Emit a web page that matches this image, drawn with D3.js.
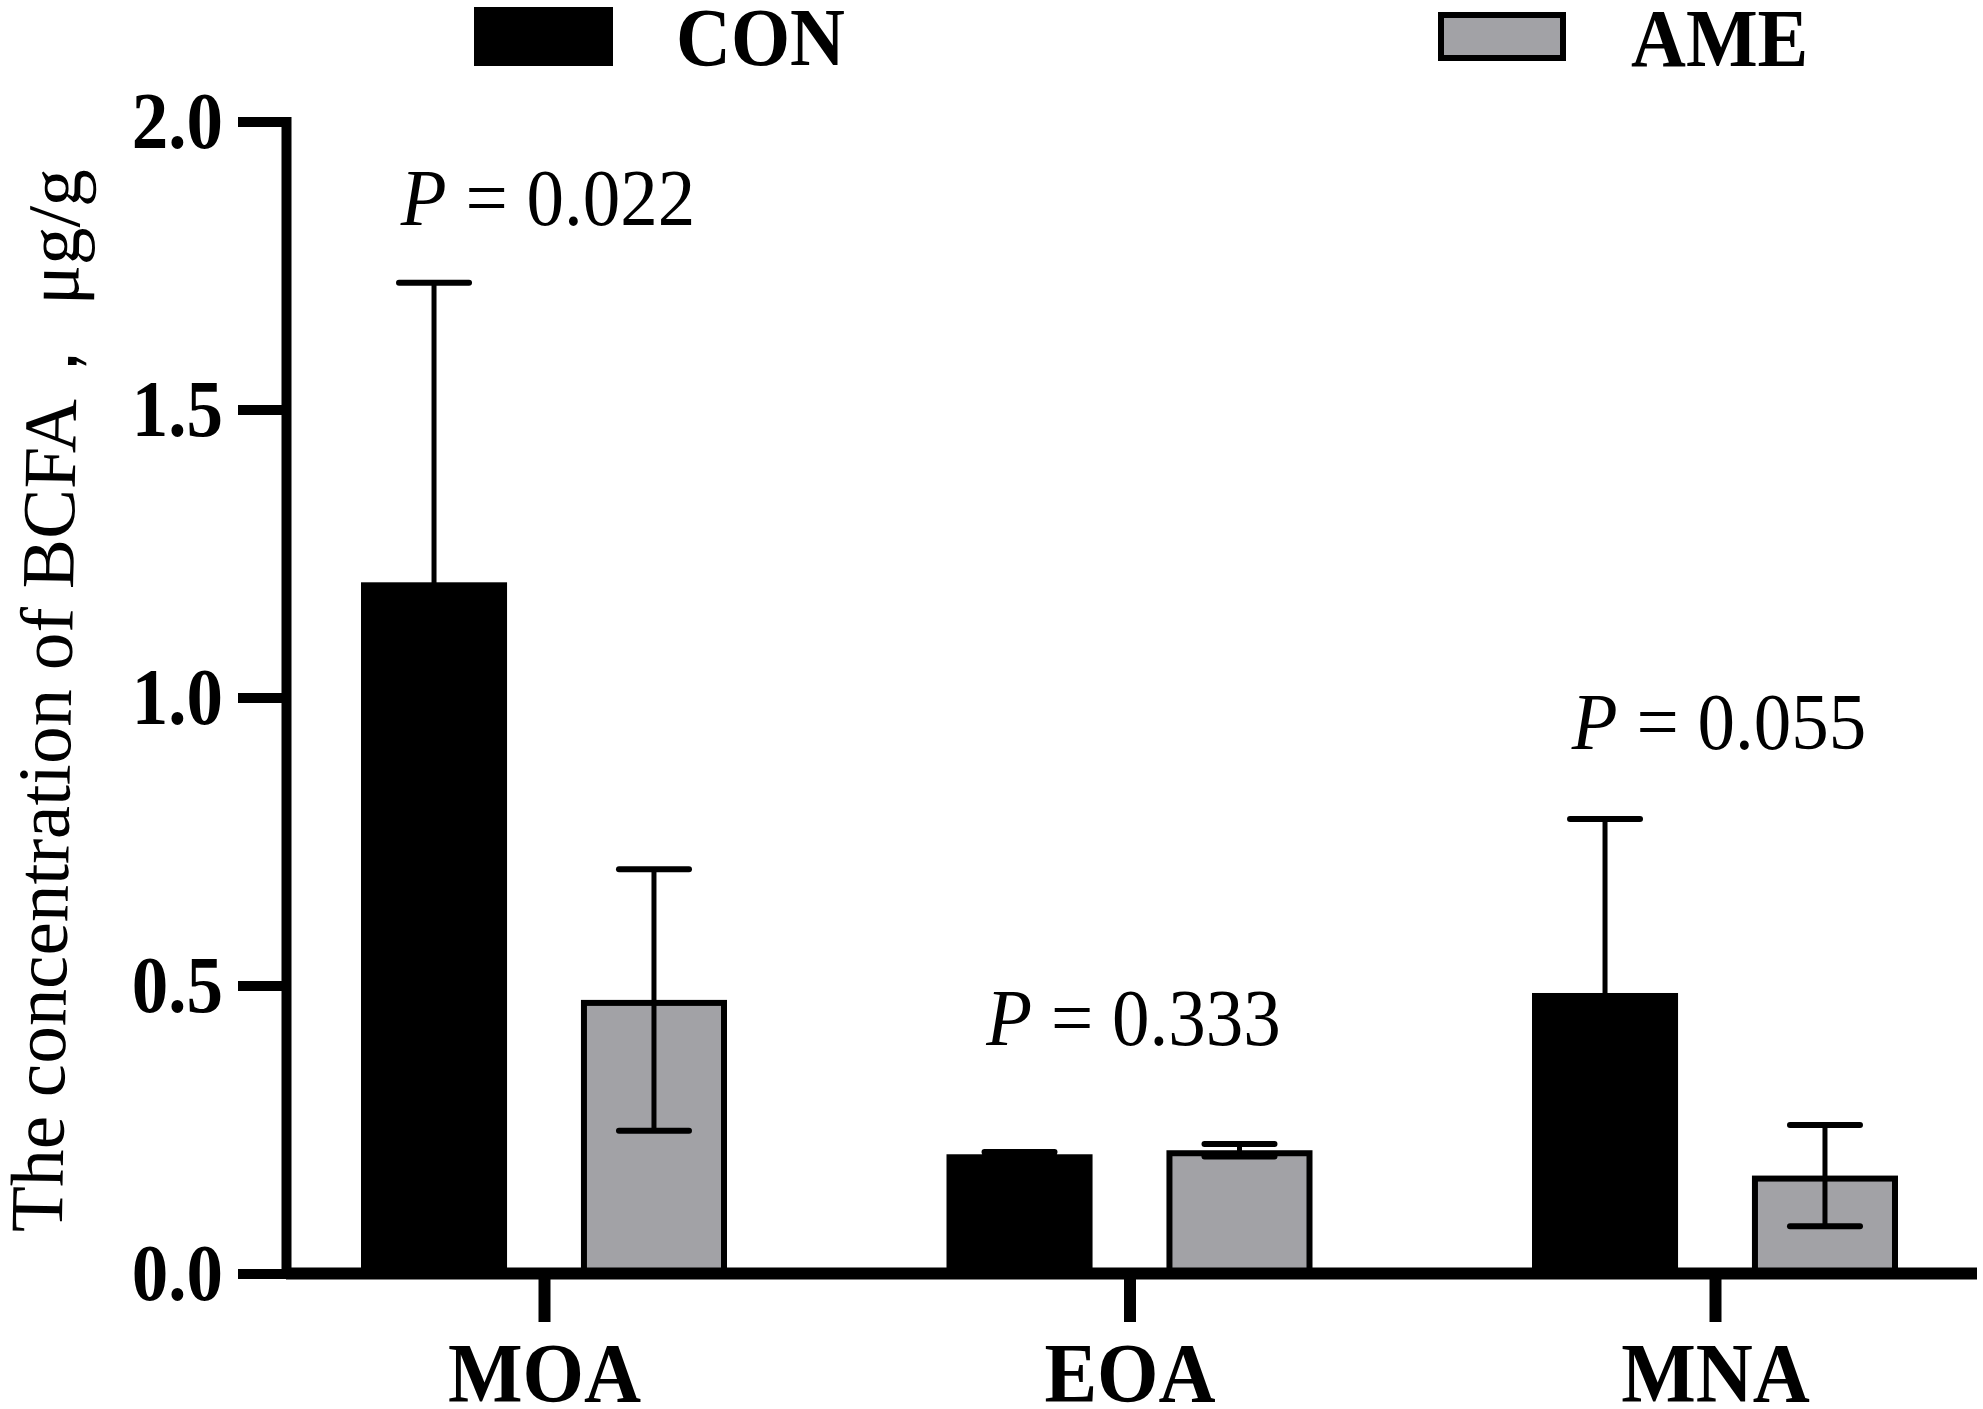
<!DOCTYPE html>
<html>
<head>
<meta charset="utf-8">
<script src="https://cdn.jsdelivr.net/npm/d3@7"></script>
<style>
  body { margin: 0; background: #fff; }
  svg { display: block; }
</style>
</head>
<body>
<svg id="chart" width="1983" height="1409"></svg>
<script>
// values
var categories = ['MOA', 'EOA', 'MNA'];
var groups = ['CON', 'AME'];
var conMean = [1.20, 0.207, 0.487];
var conErr = [0.52, 0.004, 0.302];
var ameMean = [0.475, 0.214, 0.170];
var ameErr = [0.227, 0.011, 0.088];
var pValues = ['0.022', '0.333', '0.055'];
var pLabelAt = [1.82, 0.397, 0.91];
var yTicks = [0, 0.5, 1.0, 1.5, 2.0];

var font = 'Liberation Serif, Times New Roman, serif';
var grey = '#a2a2a6';

var svg = d3.select('#chart');
svg.append('rect').attr('width', 1983).attr('height', 1409).attr('fill', '#fff');

var y = d3.scaleLinear().domain([0, 2]).range([1273.5, 121.5]);
var x = d3.scalePoint().domain(categories).range([544, 1715]);
var xSub = d3.scaleBand().domain(groups).range([-183, 183]).paddingInner(0.336);

var rows = categories.map(function (c, i) {
    return {
        cat: c,
        vals: [
            { g: 'CON', mean: conMean[i], err: conErr[i] },
            { g: 'AME', mean: ameMean[i], err: ameErr[i] }
        ]
    };
});

// bars
var cats = svg.selectAll('g.cat')
    .data(rows)
    .enter()
    .append('g')
    .attr('class', 'cat')
    .attr('transform', function (d) {
        return 'translate(' + x(d.cat) + ',0)';
    });

var sw = 6;
cats.selectAll('rect.bar')
    .data(function (d) { return d.vals; })
    .enter()
    .append('rect')
    .attr('class', 'bar')
    .attr('x', function (d) { return xSub(d.g) + (d.g === 'AME' ? sw / 2 : 0); })
    .attr('width', function (d) { return xSub.bandwidth() - (d.g === 'AME' ? sw : 0); })
    .attr('y', function (d) { return y(d.mean) + (d.g === 'AME' ? sw / 2 : 0); })
    .attr('height', function (d) { return y(0) - y(d.mean) - (d.g === 'AME' ? sw / 2 : 0); })
    .attr('fill', function (d) { return d.g === 'CON' ? '#000' : grey; })
    .attr('stroke', function (d) { return d.g === 'AME' ? '#000' : 'none'; })
    .attr('stroke-width', sw);

// error bars
var errs = cats.selectAll('g.err')
    .data(function (d) { return d.vals; })
    .enter()
    .append('g')
    .attr('class', 'err')
    .attr('transform', function (d) {
        return 'translate(' + (xSub(d.g) + xSub.bandwidth() / 2) + ',0)';
    });

errs.append('line')
    .attr('x1', 0).attr('x2', 0)
    .attr('y1', function (d) { return y(d.mean - d.err); })
    .attr('y2', function (d) { return y(d.mean + d.err); })
    .attr('stroke', '#000')
    .attr('stroke-width', 5);

var capHalf = 35;
errs.selectAll('line.cap')
    .data(function (d) { return [d.mean + d.err, d.mean - d.err]; })
    .enter()
    .append('line')
    .attr('class', 'cap')
    .attr('x1', -capHalf).attr('x2', capHalf)
    .attr('y1', function (v) { return y(v); })
    .attr('y2', function (v) { return y(v); })
    .attr('stroke', '#000')
    .attr('stroke-width', 6)
    .attr('stroke-linecap', 'round');

// x axis baseline
svg.append('line')
    .attr('x1', 286).attr('x2', 1977)
    .attr('y1', y(0)).attr('y2', y(0))
    .attr('stroke', '#000')
    .attr('stroke-width', 12);

var xAxis = svg.append('g')
    .attr('transform', 'translate(0,' + y(0) + ')')
    .call(d3.axisBottom(x).tickSize(48.5).tickSizeOuter(0));
xAxis.select('.domain').remove();
xAxis.selectAll('.tick line').attr('stroke', '#000').attr('stroke-width', 12);
xAxis.selectAll('.tick text')
    .attr('y', 0)
    .attr('dy', 0)
    .attr('transform', 'translate(0,128) scale(1,1.06)')
    .attr('fill', '#000')
    .attr('font-family', font)
    .attr('font-weight', 'bold')
    .attr('font-size', '79px');

// y axis
var yAxis = svg.append('g')
    .attr('transform', 'translate(286,0)')
    .call(d3.axisLeft(y)
        .tickValues(yTicks)
        .tickFormat(d3.format('.1f'))
        .tickSize(48)
        .tickSizeOuter(0)
        .tickPadding(15));
yAxis.select('.domain')
    .attr('stroke', '#000')
    .attr('stroke-width', 10)
    .attr('stroke-linecap', 'square');
yAxis.selectAll('.tick line').attr('stroke', '#000').attr('stroke-width', 10);
yAxis.selectAll('.tick text')
    .attr('transform', 'scale(1,1.1)')
    .attr('fill', '#000')
    .attr('font-family', font)
    .attr('font-weight', 'bold')
    .attr('font-size', '73px');

// y title (slightly tilted in the original)
svg.append('text')
    .attr('transform', 'translate(71,701) rotate(-89)')
    .attr('text-anchor', 'middle')
    .attr('font-family', font)
    .attr('font-size', '75px')
    .attr('fill', '#000')
    .text('The concentration of BCFA\uFF0C μg/g');

// P values
var pText = svg.selectAll('text.pval')
    .data(categories)
    .enter()
    .append('text')
    .attr('class', 'pval')
    .attr('transform', function (d, i) {
        return 'translate(' + (x(d) + 4) + ',' + y(pLabelAt[i]) + ') scale(1,1.08)';
    })
    .attr('text-anchor', 'middle')
    .attr('font-family', font)
    .attr('font-size', '75px')
    .attr('fill', '#000');
pText.append('tspan').attr('font-style', 'italic').text('P');
pText.append('tspan').text(function (d, i) { return ' = ' + pValues[i]; });

// legend
svg.append('rect')
    .attr('x', 474).attr('y', 7)
    .attr('width', 139).attr('height', 59)
    .attr('fill', '#000');
svg.append('rect')
    .attr('x', 1441).attr('y', 15)
    .attr('width', 122).attr('height', 43)
    .attr('fill', grey)
    .attr('stroke', '#000')
    .attr('stroke-width', sw);

var legendText = [
    { name: groups[0], x: 676, y: 65 },
    { name: groups[1], x: 1631, y: 66 }
];
svg.selectAll('text.leg')
    .data(legendText)
    .enter()
    .append('text')
    .attr('class', 'leg')
    .attr('transform', function (d) {
        return 'translate(' + d.x + ',' + d.y + ') scale(1,1.09)';
    })
    .attr('font-family', font)
    .attr('font-weight', 'bold')
    .attr('font-size', '76px')
    .attr('fill', '#000')
    .text(function (d) { return d.name; });
</script>
</body>
</html>
